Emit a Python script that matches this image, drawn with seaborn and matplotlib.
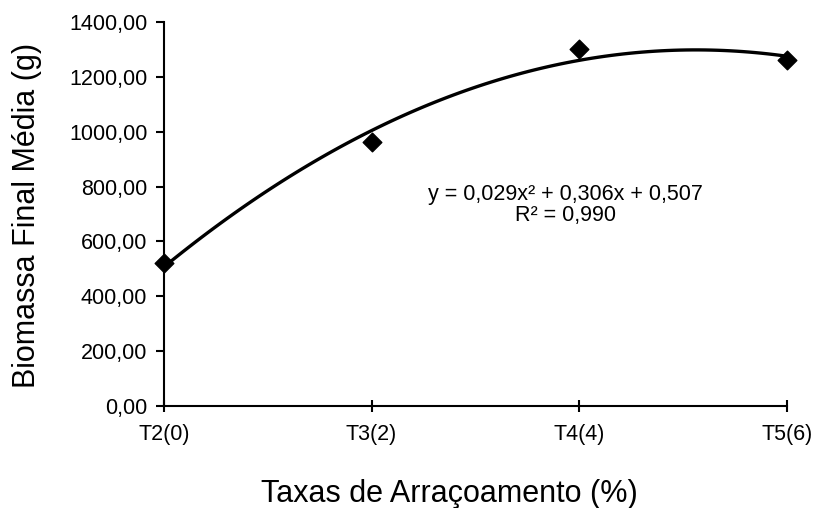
import seaborn as sns
import matplotlib.pyplot as plt
import pandas as pd
import numpy as np

# Data
taxas = [0, 2, 4, 6]
tick_labels = ['T2(0)', 'T3(2)', 'T4(4)', 'T5(6)']
biomassa = [521, 962, 1302, 1261]
y_ticks = [0, 200, 400, 600, 800, 1000, 1200, 1400]

df = pd.DataFrame({'taxa': taxas, 'biomassa': biomassa})

sns.set_style('white')
plt.rcParams['font.family'] = ['Liberation Sans', 'DejaVu Sans']
plt.rcParams['text.color'] = 'black'
plt.rcParams['axes.labelcolor'] = 'black'
plt.rcParams['xtick.color'] = 'black'
plt.rcParams['ytick.color'] = 'black'

fig = plt.figure(figsize=(8.17, 5.08), dpi=100)
ax = fig.add_axes([0.2007, 0.2008, 0.7623, 0.756])

# Quadratic trend line + points
sns.regplot(data=df, x='taxa', y='biomassa', order=2, ci=None, truncate=True,
            marker='D', color='black', ax=ax,
            scatter_kws={'s': 90, 'alpha': 1, 'edgecolor': 'black', 'zorder': 3, 'clip_on': False},
            line_kws={'linewidth': 2.4, 'clip_on': False})

ax.set_xlim(0, 6)
ax.set_ylim(0, 1400)
ax.set_xticks(taxas)
ax.set_xticklabels(tick_labels)
ax.set_yticks(y_ticks)
ax.set_yticklabels([f'{v:.2f}'.replace('.', ',') for v in y_ticks])

sns.despine(ax=ax)
for s in ['left', 'bottom']:
    ax.spines[s].set_linewidth(1.5)
    ax.spines[s].set_color('black')

ax.tick_params(axis='y', direction='out', length=6, width=1.5, labelsize=15.5, pad=6, left=True)
ax.tick_params(axis='x', direction='inout', length=8, width=1.5, labelsize=15.5, pad=9, bottom=True)

ax.set_xlabel('Taxas de Arraçoamento (%)', fontsize=22)
ax.set_ylabel('Biomassa Final Média (g)', fontsize=22)
ax.xaxis.set_label_coords(0.459, -0.19)
ax.yaxis.set_label_coords(-0.196, 0.495)

ax.text(3.87, 733, 'y = 0,029x² + 0,306x + 0,507\nR² = 0,990', ha='center', va='center',
        fontsize=15.5, linespacing=1.0)

plt.savefig('out.png', dpi=100)
